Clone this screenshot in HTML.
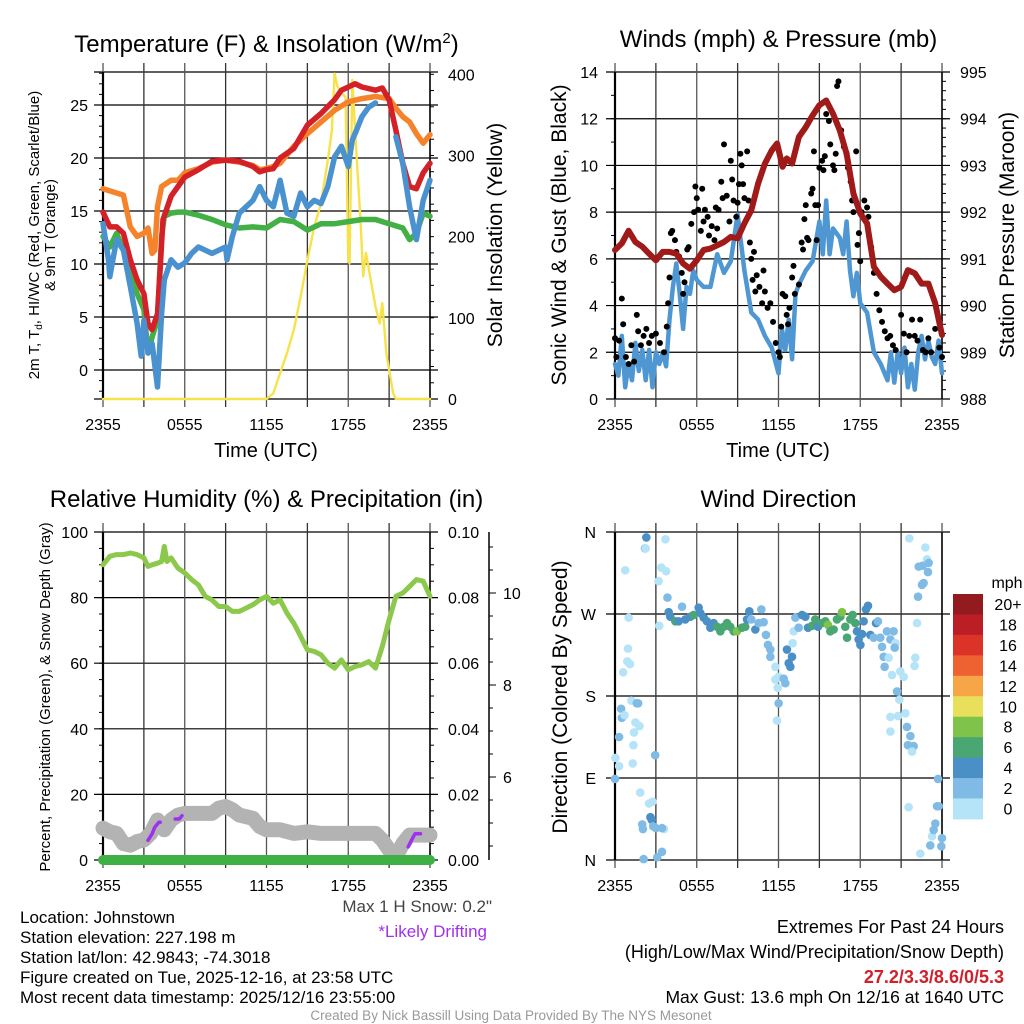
<!DOCTYPE html>
<html><head><meta charset="utf-8"><style>
body{margin:0;background:#fff}
svg{display:block;font-family:"Liberation Sans",sans-serif}
</style></head><body>
<svg id="fig" width="1024" height="1024" viewBox="0 0 1024 1024" xmlns="http://www.w3.org/2000/svg">
<g id="p1"></g>
<g id="p2"></g>
<g id="p3"></g>
<g id="p4"></g>
<g id="txt" font-size="17">
<text x="20" y="923">Location: Johnstown</text>
<text x="20" y="943">Station elevation: 227.198 m</text>
<text x="20" y="963">Station lat/lon: 42.9843; -74.3018</text>
<text x="20" y="983">Figure created on Tue, 2025-12-16, at 23:58 UTC</text>
<text x="20" y="1003">Most recent data timestamp: 2025/12/16 23:55:00</text>
<text x="492" y="912" text-anchor="end" fill="#444">Max 1 H Snow: 0.2"</text>
<text x="487" y="937" text-anchor="end" fill="#a030f0">*Likely Drifting</text>
<text x="1004" y="933" text-anchor="end" font-size="18">Extremes For Past 24 Hours</text>
<text x="1004" y="958" text-anchor="end" font-size="18">(High/Low/Max Wind/Precipitation/Snow Depth)</text>
<text x="1004" y="983" text-anchor="end" fill="#d0202a" font-weight="bold" font-size="18">27.2/3.3/8.6/0/5.3</text>
<text x="1004" y="1003" text-anchor="end" font-size="17.5">Max Gust: 13.6 mph On 12/16 at 1640 UTC</text>
<text x="511" y="1020" text-anchor="middle" fill="#999" font-size="13.5">Created By Nick Bassill Using Data Provided By The NYS Mesonet</text>
</g>
</svg>
<script>
const xTickLabels=["2355","0555","1155","1755","2355"];
// Panel 1 data (hours, value)
const tT=[0,0.5,1,1.5,2,2.5,3,3.3,3.6,4,4.4,5,5.5,6,7,8,9,10,11,11.5,12,12.5,13,14,15,16,17,17.5,18,18.5,19,20,20.5,21,21.5,22,22.5,23,23.5,24];
const redT=[14.9,13.5,13.5,12.9,10.4,8.5,7.2,4.4,3.8,5.3,14.2,16.4,17.3,18.2,18.9,19.7,19.8,19.7,19.2,18.7,18.9,19,20,20.9,23.1,24.2,25.5,26.4,26.7,27,26.7,26.4,26.6,25.5,22.6,19.5,17.3,17.1,18.6,19.5];
const tO=[0,1,1.5,2,2.5,3,3.3,3.6,3.8,4,4.3,5,5.5,6,7,8,9,10,11,11.5,12,12.5,13,14,15,16,17,18,19,20,21,21.5,22,22.5,23,23.5,24];
const orangeT=[17.1,16.7,16.5,13.5,12.6,12.9,13.4,11,11.3,15.4,17.3,17.9,17.9,18.6,19,19.6,19.8,19.6,19.3,18.9,19,19.2,19.5,21.1,22.3,23.4,24.5,25.3,25.6,25.8,25.6,24.7,23.9,23.4,22.3,21.4,22.2];
const tG=[0,0.5,1,1.5,2,2.5,3,3.3,3.6,4,4.3,4.5,5,5.5,6,7,8,9,10,11,12,13,14,15,16,17,18,19,20,21,22,22.5,23,23.5,24];
const greenTd=[12.6,11.6,12.9,11.3,9.4,7.2,5.7,1.6,3.1,4.7,12.6,14.5,14.8,14.9,14.9,14.6,14.2,13.7,13.4,13.5,13.4,14.2,14,13.2,13.8,13.8,14,14.2,14.2,13.8,13.4,12.3,12.9,14.8,14.5];
const tB=[0,0.4,0.5,1,1.5,2,2.5,2.8,3,3.3,3.6,4,4.3,4.5,5,5.5,6,6.5,7,8,9,9.1,9.5,10,10.5,11,11.5,12,12.5,13,13.5,14,14.5,15,15.5,16,16.5,17,17.5,18,18.3,18.6,19,19.5,20];
const blueWC=[13.8,10.4,8.8,12.3,11.3,7.9,4.4,1.3,4.7,1.6,2.5,-1.6,5.3,8.5,10.4,9.7,10.1,11,11.6,11,11.6,10.4,12.6,14.8,15.4,16,17.3,16,15.4,17.9,14.8,14.5,16.7,15.4,16,15.7,17.3,20.1,21.1,19.2,21.7,22.6,23.9,24.8,25.2];
const tB2=[21.5,22,22.5,23,23.5,24];
const blueWC2=[22,19.5,15.4,12.3,16,17.9];
const tY=[0,12,12.5,13,13.5,14,14.5,15,15.5,16,16.5,16.8,17,17.2,17.5,17.8,18,18.1,18.3,18.6,18.9,19.1,19.3,19.6,20,20.3,20.5,20.8,21,21.3,21.5,24];
const solar=[0,0,7,32,56,85,126,171,212,241,294,331,401,385,377,372,171,167,393,303,220,151,180,151,114,93,118,56,36,7,0,0];
// Panel 2 data
const tP=[0,0.5,1,1.5,2,2.5,3,3.5,4,4.5,5,5.5,6,6.5,7,7.5,8,8.5,9,9.5,10,10.5,11,11.5,11.9,12.3,12.6,13,13.5,14,14.5,15,15.5,16,16.5,17,17.5,18,18.5,19,19.5,20,20.5,21,21.5,22,22.5,23,23.5,24];
const pressure=[991.19,991.33,991.6,991.36,991.26,991.11,990.97,991.15,991.15,991.11,990.9,990.79,990.97,991.19,991.22,991.29,991.36,991.47,991.44,991.76,992.04,992.61,993.04,993.32,993.47,992.97,993.15,993.04,993.61,993.82,994.07,994.29,994.39,994.11,993.75,993.25,992.4,991.97,991.76,990.83,990.62,990.47,990.33,990.4,990.76,990.69,990.47,990.47,990.05,989.37];
const tW=[0,0.25,0.5,0.75,1,1.25,1.5,1.75,2,2.25,2.5,2.75,3,3.25,3.5,3.75,4,4.25,4.5,4.75,5,5.25,5.5,5.75,6,6.5,7,7.5,8,8.5,9,9.5,10,10.5,11,11.5,12,12.25,12.5,12.75,13,13.25,13.5,14,14.5,15,15.25,15.5,15.75,16,16.5,16.75,17,17.25,17.5,17.75,18,18.5,19,19.5,20,20.25,20.5,20.75,21,21.25,21.5,21.75,22,22.25,22.5,22.75,23,23.25,23.5,23.75,24];
const wind=[1.5,1,2.7,0.5,1.5,0.8,2.4,1.2,2.1,0.8,2.1,0.5,2,1.5,2,1.4,3.4,4.8,5.8,4.5,3,4.8,4.5,5.5,5.1,4.8,4.8,6.2,5.4,5.9,7.9,5.5,3.7,3.4,2.7,2.2,1.1,3,2.1,3.4,1.7,4.5,4.9,5.5,5.9,7.6,6.2,8.5,6.2,7.3,6.9,6.2,7.6,5.5,4.4,5.4,4.1,3.7,2,1.5,0.8,2,0.7,2,1.1,2.2,0.5,1.5,0.4,2,2.7,1.7,2.5,1.8,1.5,2.5,1.1];
const tGust=[0,0.1,0.3,0.5,0.6,0.8,1,1.2,1.4,1.6,1.7,1.9,2.1,2.3,2.5,2.7,3,3.3,3.6,3.8,3.9,4,4.1,4.2,4.4,4.5,4.7,4.9,5,5.1,5.3,5.4,5.6,5.8,5.9,6,6.1,6.3,6.4,6.5,6.6,6.8,6.9,7.1,7.3,7.4,7.5,7.6,7.8,7.9,8,8.2,8.4,8.5,8.6,8.7,8.9,9,9.1,9.2,9.3,9.4,9.5,9.7,9.8,9.9,10,10.1,10.2,10.3,10.4,10.6,10.8,10.9,11,11.2,11.4,11.6,11.8,12,12.1,12.2,12.3,12.5,12.6,12.7,12.8,13,13.1,13.2,13.5,13.7,13.8,13.9,14,14.1,14.2,14.4,14.5,14.6,14.7,14.8,14.9,15,15.2,15.3,15.4,15.5,15.7,15.8,16,16.1,16.2,16.3,16.4,16.6,16.8,17,17.1,17.3,17.4,17.5,17.7,17.8,17.9,18,18.1,18.3,18.5,18.6,18.8,19,19.2,19.4,19.6,19.8,20,20.2,20.4,20.6,21,21.2,21.4,21.6,21.8,22,22.2,22.4,22.6,22.8,23,23.2,23.5,23.8,24];
const gust=[2.6,1.8,2.5,4.3,3.2,1.8,1.5,2.3,1.6,3.6,2.9,2.3,2.7,3,2.4,2.7,2.8,2.4,2,3.1,4.1,5.2,7.1,7.2,6.8,6.3,6.1,5.4,4.5,5,6.4,6.5,7.5,8,9.1,8.6,8.1,7.2,9,7.6,8.1,7.8,7,7.4,6.8,8.2,7.3,8.1,9.3,8.6,10.9,8.7,7.6,10.2,9.4,8.5,7.8,8.4,9.2,10.5,10,9.2,8.6,10.6,8.5,6.7,6,5.1,6.3,4.6,5.3,4.8,4.1,5.5,4.6,3.9,4.1,3.3,2.4,2,1.8,3.1,4.5,4.4,3.6,3.2,3.9,5.2,5.7,4.5,4.9,6.7,6.4,7.7,8.3,6.9,6.8,8.8,9,10.6,8.3,6.8,8.3,9.9,10.2,9.8,10.4,12.2,11.9,10.9,10,9.8,10.5,13.4,13.6,11.5,10.8,10.5,9.9,9.3,8.5,8,10.6,6.6,7.1,5.9,8,8.5,8.2,7.8,6.5,5.4,4.5,3.8,3.3,2.9,2.6,2.7,2.3,2.1,3.6,2.8,2,2.7,3.4,2.7,2.5,3.4,2.1,2,2.6,2,3,2.2,1.8];
// Panel 3 data
const tRH=[0,0.5,1,1.5,2,2.5,3,3.3,3.6,4,4.3,4.5,4.7,5,5.5,6,6.5,7,7.5,8,8.5,9,9.5,10,10.5,11,11.5,12,12.5,13,13.5,14,14.5,15,15.5,16,16.5,17,17.5,18,18.5,19,19.5,20,20.5,21,21.5,22,22.5,23,23.5,24];
const rh=[90,92.6,93.1,93.1,93.6,93.1,92.1,89.5,90,90.5,91,95.6,91,92.1,89,87.5,85.5,83.9,80.4,79.3,77.3,77.3,75.8,75.8,76.8,77.8,79.3,80.4,78.3,79.3,75.3,72.2,68.2,64.1,63.6,62.6,60,58.5,61,58,59,59.5,60.5,58.5,65.1,73.2,80.4,81.4,83.4,85.5,85,80.4];
const tSnow=[0,0.5,1,1.5,2,2.5,3,3.5,4,4.5,5,5.5,6,7,8,8.5,9,9.5,10,11,11.5,12,13,14,15,16,20,20.5,21,21.5,22,22.5,23,24];
const snowPct=[9.7,8.6,8.1,5,4.5,5.6,6.1,8.1,12.2,9.2,12.2,13.7,14.2,14.2,14.2,15.8,16.3,15.3,13.7,12.7,10.2,9.2,9.2,8.1,8.6,8.1,8.1,6.1,3.1,1,5,7.6,7.6,7.6];
const tDrift1=[3.3,3.6,3.8,4.1,4.2];const drift1=[6,8,10,11.5,11.5];
const tDrift2=[5.3,5.6,5.8];const drift2=[12.5,12.5,13.5];
const tDrift3=[22.4,22.7,22.9,23.3];const drift3=[4,6.5,8,8];
const tPrecip=[0,24];const precip=[0,0];
const snowTicks=[6,8,10];
// Panel 4 data
const tDir=[0,0.03,0.3,0.3,0.5,0.45,0.7,0.75,1,0.95,0.9,1.1,0.6,1.2,1.6,1.7,1.5,1.8,1.4,1.35,1.3,1.85,2.5,2.75,2,2.05,2.6,2.7,2.8,3,3.6,3.45,2.1,3.1,3.45,2.95,2.3,2.2,2.25,3.7,3.4,3.75,3.2,3.85,3.25,
3.94,4.06,4.43,4.67,4.92,5.16,5.53,5.77,6.14,6.26,6.51,6.75,7.0,7.24,7.49,7.73,7.98,8.22,8.46,8.71,8.95,9.32,9.56,9.69,9.86,10.0,10.3,10.54,10.74,10.91,11.08,11.23,11.4,11.4,11.77,11.77,12.01,12.38,12.5,11.94,12.01,11.89,12.62,12.75,12.99,12.87,13.04,13.11,13.24,13.48,13.73,13.97,14.17,14.46,14.7,14.9,15.19,15.44,15.63,15.8,16.05,16.29,16.54,16.66,16.9,17.03,17.27,17.44,17.64,17.76,17.88,18.01,18.13,18.25,18.42,18.57,18.74,18.98,19.16,19.3,19.47,19.6,19.72,19.79,19.96,20.09,20.21,20.33,20.45,20.58,20.53,20.7,20.87,20.94,21.19,20.77,20.21,20.21,21.31,21.43,21.68,21.5,21.92,21.8,22.04,21.99,22.17,22.24,22.53,22.65,22.29,22.58,22.9,23.02,22.97,22.78,21.6,21.55,22.41,23.14,23.27,23.39,23.51,23.63,23.76,23.71,23.95,24.0];
const dirDeg=[89,112,103,135,156,166,159,318,266,232,218,215,206,175,172,172,151,147,140,126,106,74,62,64,39,34,47,44,37,35,34,35,1,3,9,115,354,342,342,352,321,317,306,288,257,
272,267,262,262,278,264,267,269,277,271,266,262,255,260,256,251,256,260,256,251,251,255,256,264,273,264,253,260,275,261,247,236,231,223,212,198,201,199,194,189,172,153,231,216,223,212,238,251,266,255,269,267,255,257,264,256,260,262,258,251,253,264,267,272,256,244,264,269,260,251,242,236,248,262,275,279,247,244,260,262,244,234,223,212,251,222,242,203,251,238,233,185,176,207,201,158,157,141,161,146,136,126,125,119,222,213,260,289,302,304,322,323,330,326,316,343,353,58,7,16,26,33,40,59,59,89,15,24];
const dirSpeed=[3,1,1,3,3,3,1,1,1,1,1,1,1,1,3,3,1,1,1,1,1,1,1,1,3,3,5,5,3,3,1,3,3,3,3,3,5,3,1,1,1,1,1,3,1,
5,5,7,5,3,5,5,7,5,5,5,5,5,5,7,7,7,7,7,7,9,7,7,5,5,3,5,3,3,3,3,3,3,3,1,1,1,3,3,1,3,1,5,5,5,5,1,1,3,3,5,5,5,7,7,5,7,7,9,7,7,7,7,9,7,7,7,7,7,5,5,5,5,5,5,5,5,3,5,3,3,3,3,3,3,1,3,1,3,1,3,3,1,1,1,1,1,1,1,3,3,3,3,1,1,1,1,3,3,3,3,3,1,3,3,1,1,1,1,3,1,3,3,3,3,3,3,3,1];
const cbLabels=["20+","18","16","14","12","10","8","6","4","2","0"];
const cbColors=["#931a1d","#bc1e26","#dc3328","#ee6130","#f6a646","#e8e05a","#7fc34b","#4aa672","#4a8fc6","#80bbe6","#b5e3f8"];

const NS="http://www.w3.org/2000/svg";
function mk(parent,tag,attrs,text){const e=document.createElementNS(NS,tag);for(const k in attrs)e.setAttribute(k,attrs[k]);if(text!==undefined)e.textContent=text;parent.appendChild(e);return e;}
function lin(d0,d1,r0,r1){return v=>r0+(v-d0)*(r1-r0)/(d1-d0);}
function pathD(xs,ys,sx,sy){return xs.map((t,i)=>(i?"L":"M")+sx(t).toFixed(1)+","+sy(ys[i]).toFixed(1)).join("");}

function frame(g,L,R,T,B,hY,title,titleY){
  hY.forEach(y=>{const l=mk(g,"line",{x1:L-9,x2:R+8,y1:y,y2:y,stroke:"#000","stroke-width":1.2});
    });
  for(let i=0;i<=8;i++){const x=L+(R-L)*i/8;const l=mk(g,"line",{x1:x,x2:x,y1:T-9,y2:B+8,stroke:i%2?"#333":"#555","stroke-width":1.3});
    }
  const ax=mk(g,"line",{x1:L,x2:L,y1:T,y2:B,stroke:"#000","stroke-width":2.2});
  
  const ax2=mk(g,"line",{x1:R,x2:R,y1:T,y2:B,stroke:"#000","stroke-width":1.5});
  
  xTickLabels.forEach((s,i)=>{const t=mk(g,"text",{x:L+(R-L)*i/4,y:B+31,"text-anchor":"middle","font-size":16},s);
    });
  const tt=mk(g,"text",{x:(L+R)/2,y:titleY,"text-anchor":"middle","font-size":24},title);
  
  return tt;
}
function ylabels(g,vals,sy,x,anchor,fmt,name){vals.forEach(v=>{const t=mk(g,"text",{x:x,y:sy(v)+6,"text-anchor":anchor,"font-size":16},fmt(v));
  });}
function minor(g,x,dir,from,to,step,sy){for(let v=from;v<=to+1e-9;v+=step){const y=sy(v);const l=mk(g,"line",{x1:x,x2:x+dir*4,y1:y,y2:y,stroke:"#000","stroke-width":1});
  }}
function rotText(g,x,y,s,size,name){const t=mk(g,"text",{x:0,y:0,transform:`translate(${x},${y}) rotate(-90)`,"text-anchor":"middle","font-size":size},s);
  return t;}
function line(g,xs,ys,sx,sy,color,w,name){const p=mk(g,"path",{d:pathD(xs,ys,sx,sy),fill:"none",stroke:color,"stroke-width":w,"stroke-linejoin":"round","stroke-linecap":"round"});
  return p;}

const L1=103,R1=430,T=72,B=399;
// Panel 1
(function(){const g=document.getElementById('p1');
 const sx=lin(0,24,L1,R1),sy=lin(0,25,370,105),sr=lin(0,400,399,74.3);
 const tt=frame(g,L1,R1,T,B,[0,5,10,15,20,25].map(sy).concat([T,B]),"",52);
 tt.textContent="Temperature (F) & Insolation (W/m";mk(tt,"tspan",{dy:-9,"font-size":15},"2");mk(tt,"tspan",{dy:9},")");
 ylabels(g,[0,5,10,15,20,25],sy,88,"end",v=>v,"left-tick-label");
 ylabels(g,[0,100,200,300,400],sr,448,"start",v=>v,"right-tick-label");
 minor(g,L1,-1,-2,28,1,sy);minor(g,R1,1,0,400,20,sr);
 line(g,tY,solar,sx,sr,"#f7e24a",2.4,"solar-insolation-line");
 line(g,tG,greenTd,sx,sy,"#43b045",5.5,"dewpoint-line");
 line(g,tO,orangeT,sx,sy,"#f5832b",5.5,"9m-temperature-line");
 line(g,tT,redT,sx,sy,"#d42027",5.5,"2m-temperature-line");
 line(g,tB,blueWC,sx,sy,"#4a92cf",5.5,"windchill-line");
 line(g,tB2,blueWC2,sx,sy,"#4a92cf",5.5,"windchill-line-2");
 const lt=rotText(g,39,235,"2m T, T",15,"left-axis-title");mk(lt,"tspan",{dy:3,"font-size":10},"d");mk(lt,"tspan",{dy:-3},", HI/WC (Red, Green, Scarlet/Blue)");
 rotText(g,55,235,"& 9m T (Orange)",15,"left-axis-title-2");
 rotText(g,502,235,"Solar Insolation (Yellow)",21,"right-axis-title");
 const xt=mk(g,"text",{x:266,y:457,"text-anchor":"middle","font-size":20},"Time (UTC)");
})();
// Panel 2
(function(){const g=document.getElementById('p2');const L=615,R=942;
 const sx=lin(0,24,L,R),sy=lin(0,14,B,T),sp=lin(988,995,B,T);
 frame(g,L,R,T,B,[0,2,4,6,8,10,12,14].map(sy),"Winds (mph) & Pressure (mb)",47);
 ylabels(g,[0,2,4,6,8,10,12,14],sy,598,"end",v=>v,"left-tick-label");
 ylabels(g,[988,989,990,991,992,993,994,995],sp,960,"start",v=>v,"right-tick-label");
 minor(g,L,-1,0,14,1,sy);minor(g,R,1,988,995,0.2,sp);
 line(g,tW,wind,sx,sy,"#4f97d3",4.5,"sonic-wind-line");
 tGust.forEach((t,i)=>{const c=mk(g,"circle",{cx:sx(t),cy:sy(gust[i]),r:3,fill:"#000"});
   });
 line(g,tP,pressure,sx,sp,"#a01a1a",6,"pressure-line");
 rotText(g,566,235,"Sonic Wind & Gust (Blue, Black)",21,"left-axis-title");
 rotText(g,1014,235,"Station Pressure (Maroon)",21,"right-axis-title");
 const xt=mk(g,"text",{x:778,y:457,"text-anchor":"middle","font-size":20},"Time (UTC)");
})();
// Panel 3
(function(){const g=document.getElementById('p3');const T3=532,B3=860;
 const sx=lin(0,24,L1,R1),sy=lin(0,100,B3,T3),sr=lin(0,0.1,B3,T3),ss=lin(8,10,685,593);
 frame(g,L1,R1,T3,B3,[0,20,40,60,80,100].map(sy),"Relative Humidity (%) & Precipitation (in)",507);
 ylabels(g,[0,20,40,60,80,100],sy,88,"end",v=>v,"left-tick-label");
 ylabels(g,[0,0.02,0.04,0.06,0.08,0.1],sr,448,"start",v=>v.toFixed(2),"right-tick-label");
 minor(g,L1,-1,0,100,5,sy);minor(g,R1,1,0,0.1,0.005,sr);
 const sa=mk(g,"line",{x1:489,x2:489,y1:T3,y2:B3,stroke:"#000","stroke-width":1.5});
 for(let v=4.5;v<=11.2;v+=0.5){const y=ss(v);const l=mk(g,"line",{x1:489,x2:snowTicks.includes(v)?496:493,y1:y,y2:y,stroke:"#000","stroke-width":1});}
 ylabels(g,snowTicks,ss,503,"start",v=>v,"snow-tick-label");
 line(g,tRH,rh,sx,sy,"#8cc84b",5,"relative-humidity-line");
 line(g,tSnow,snowPct,sx,sy,"#b3b3b3",15,"snow-depth-line");
 line(g,tDrift1,drift1,sx,sy,"#a030f0",3.5,"drifting-segment");
 line(g,tDrift2,drift2,sx,sy,"#a030f0",3.5,"drifting-segment");
 line(g,tDrift3,drift3,sx,sy,"#a030f0",3.5,"drifting-segment");
 line(g,tPrecip,precip,sx,sy,"#3fb043",10,"precipitation-line");
 rotText(g,50,697,"Percent, Precipitation (Green), & Snow Depth (Gray)",15,"left-axis-title");
})();
// Panel 4
(function(){const g=document.getElementById('p4');const L=615,R=942,T3=532,B3=860;
 const sx=lin(0,24,L,R),sy=lin(0,360,B3,T3);
 frame(g,L,R,T3,B3,[0,90,180,270,360].map(sy),"Wind Direction",507);
 ["N","E","S","W","N"].forEach((s,i)=>{const t=mk(g,"text",{x:596,y:sy(i*90)+6,"text-anchor":"end","font-size":16},s);});
 function col(s){const k=Math.min(10,Math.floor(s/2));return cbColors[10-k];}
 tDir.forEach((t,i)=>{const c=mk(g,"circle",{cx:sx(t),cy:sy(dirDeg[i]),r:4.3,fill:col(dirSpeed[i])});
   });
 rotText(g,567,697,"Direction (Colored By Speed)",21,"left-axis-title");
 const mph=mk(g,"text",{x:1007,y:588,"text-anchor":"middle","font-size":16},"mph");
 cbLabels.forEach((s,i)=>{const y=594+i*20.45;
   const r=mk(g,"rect",{x:953,y:y,width:30,height:20.9,fill:cbColors[i]});
   const t=mk(g,"text",{x:1008,y:y+16,"text-anchor":"middle","font-size":16},s);});
})();
</script>
</body></html>
